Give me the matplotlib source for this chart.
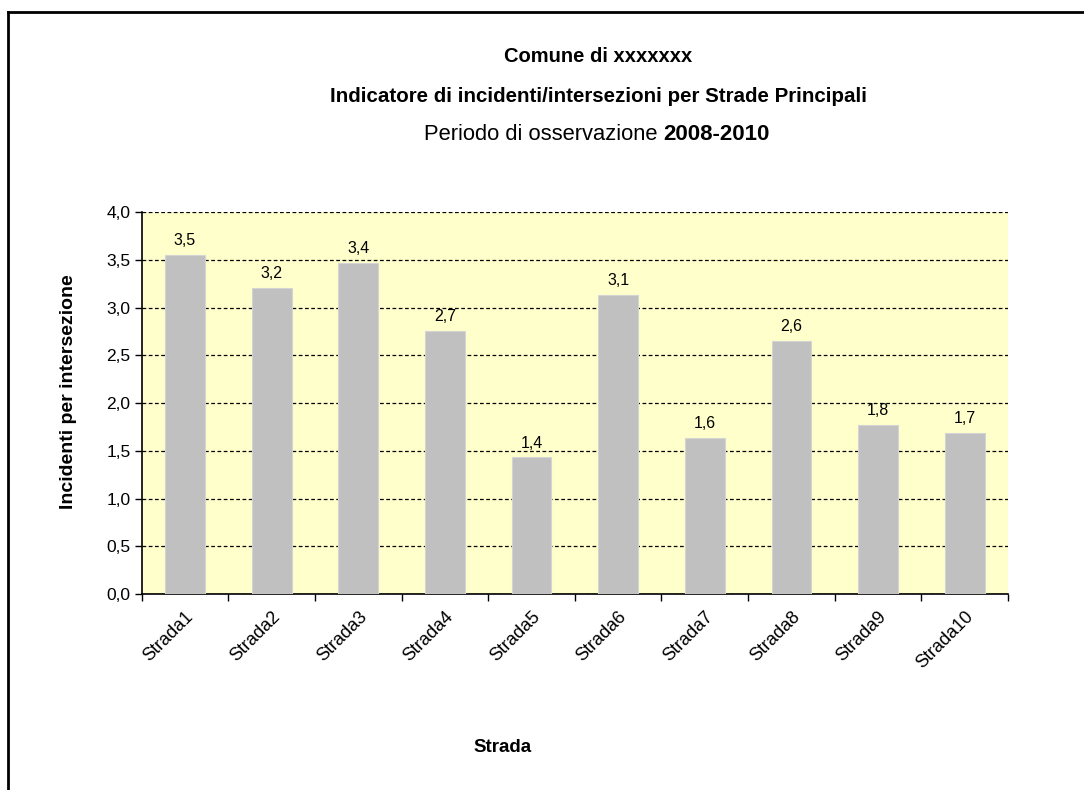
import matplotlib
matplotlib.use("Agg")
import matplotlib.pyplot as plt
from matplotlib.lines import Line2D

plt.rcParams['font.family'] = ['Liberation Sans', 'DejaVu Sans']

strade = ["Strada1", "Strada2", "Strada3", "Strada4", "Strada5",
          "Strada6", "Strada7", "Strada8", "Strada9", "Strada10"]
valori = [3.55, 3.20, 3.47, 2.75, 1.43, 3.13, 1.63, 2.65, 1.77, 1.69]
etichette = ["3,5", "3,2", "3,4", "2,7", "1,4", "3,1", "1,6", "2,6", "1,8", "1,7"]
yticks = [0.0, 0.5, 1.0, 1.5, 2.0, 2.5, 3.0, 3.5, 4.0]

fig = plt.figure(figsize=(10.84, 7.9), dpi=100)
ax = fig.add_axes([0.1307, 0.2481, 0.7992, 0.4835])
ax.set_facecolor("#FFFFCC")

x = list(range(len(strade)))
ax.bar(x, valori, width=0.46, color="#C0C0C0", edgecolor="#D4D4D4", linewidth=0.8, zorder=3)
for xi, v, lab in zip(x, valori, etichette):
    ax.annotate(lab, (xi, v), xytext=(0, 5), textcoords="offset points",
                ha="center", va="bottom", fontsize=11.5, zorder=4)

ax.set_xlim(-0.5, len(strade) - 0.5)
ax.set_ylim(0, 4.0)
ax.set_yticks(yticks)
ax.set_yticklabels([("%.1f" % t).replace(".", ",") for t in yticks], fontsize=12.5)
ax.yaxis.grid(True, linestyle=(0, (3, 2)), color="black", linewidth=0.9, zorder=1)
ax.set_axisbelow(True)

# tick marks on category boundaries, labels centered under bars
ax.set_xticks([i - 0.5 for i in range(len(strade) + 1)])
ax.set_xticklabels([])
ax.set_xticks(x, minor=True)
ax.set_xticklabels(strade, minor=True, rotation=45, ha="right",
                   rotation_mode="anchor", fontsize=13)
ax.tick_params(axis="x", which="minor", length=0, pad=10)
ax.tick_params(axis="x", which="major", length=5, direction="out", width=1)
ax.tick_params(axis="y", length=5, direction="out", width=1, pad=3)

for s in ["top", "right"]:
    ax.spines[s].set_visible(False)
ax.spines["left"].set_linewidth(1.2)
ax.spines["bottom"].set_linewidth(1.2)

ax.set_ylabel("Incidenti per intersezione", fontsize=14, fontweight="bold")
ax.yaxis.set_label_coords(-0.075, 0.53)
fig.text(503 / 1084, 1 - 748 / 790, "Strada", ha="center", va="center",
         fontsize=13.5, fontweight="bold")

fig.text(598 / 1084, 1 - 57 / 790, "Comune di xxxxxxx", ha="center", va="center",
         fontsize=14.5, fontweight="bold")
fig.text(598 / 1084, 1 - 96 / 790, "Indicatore di incidenti/intersezioni per Strade Principali",
         ha="center", va="center", fontsize=14.8, fontweight="bold")
fig.text(657 / 1084, 1 - 135 / 790, "Periodo di osservazione", ha="right", va="center",
         fontsize=15.8)
fig.text(663 / 1084, 1 - 135 / 790, "2008-2010", ha="left", va="center",
         fontsize=16, fontweight="bold")

# outer chart frame (only left and top edges are visible in the crop)
fig.add_artist(Line2D([8 / 1084, 8 / 1084], [0, 1 - 12 / 790], color="black", linewidth=2,
                      transform=fig.transFigure))
fig.add_artist(Line2D([8 / 1084, 1], [1 - 12 / 790, 1 - 12 / 790], color="black", linewidth=2,
                      transform=fig.transFigure))

fig.savefig("out.png", dpi=100)
